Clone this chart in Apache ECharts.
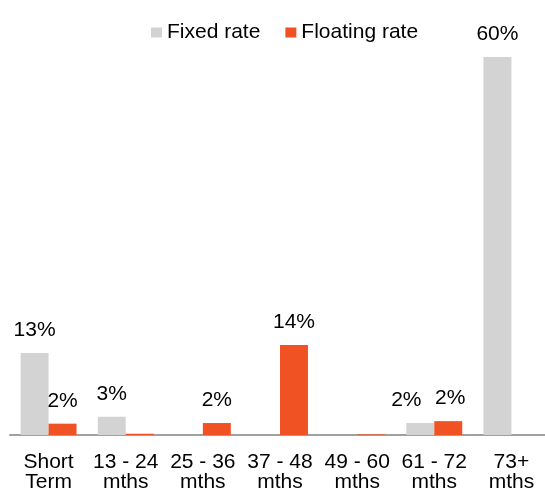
<!DOCTYPE html>
<html>
<head>
<meta charset="utf-8">
<style>
  html, body { margin: 0; padding: 0; background: #fff; }
  #chart { width: 545px; height: 495px; }
</style>
<script src="https://cdn.jsdelivr.net/npm/echarts@6/dist/echarts.min.js"></script>
</head>
<body>
<div id="chart"></div>
<script>
// Maturity buckets
const categories = ['Short\nTerm', '13 - 24\nmths', '25 - 36\nmths', '37 - 48\nmths', '49 - 60\nmths', '61 - 72\nmths', '73+\nmths'];
// Share of debt by rate type, percent (null = no balance)
const fixedRate = [13.0, 2.9, null, null, null, 1.9, 60.0];
const floatingRate = [1.8, 0.2, 1.9, 14.3, 0.1, 2.2, null];

const FONT = '"Liberation Sans", Arial, sans-serif';

const valueLabel = {
  show: true,
  position: 'top',
  distance: 12,
  color: '#000',
  fontFamily: FONT,
  fontSize: 21,
  formatter: p => (p.value == null || p.value < 0.5) ? '' : Math.round(p.value) + '%'
};

// Side-by-side labels in the 61-72 bucket are pushed apart so they don't touch
const labelNudge = { fixed: { 5: [-14, 0] }, floating: { 5: [2, 0] } };
const withNudge = (values, nudges) => values.map((v, i) =>
  nudges[i] ? { value: v, label: { offset: nudges[i] } } : v);

const chart = echarts.init(document.getElementById('chart'), null, { renderer: 'canvas' });
chart.setOption({
  animation: false,
  legend: {
    top: 22,
    left: 151,
    padding: 0,
    itemWidth: 11,
    itemHeight: 10,
    itemGap: 25,
    icon: 'rect',
    textStyle: { fontFamily: FONT, fontSize: 21, color: '#000' },
    data: ['Fixed rate', 'Floating rate']
  },
  grid: { left: 10, width: 540, top: 57, bottom: 60, outerBoundsMode: 'none', containLabel: false },
  xAxis: {
    type: 'category',
    data: categories,
    axisTick: { show: false },
    axisLine: { lineStyle: { color: '#a0a0a0', width: 2 } },
    axisLabel: {
      interval: 0,
      margin: 17,
      color: '#000',
      fontFamily: FONT,
      fontSize: 21,
      lineHeight: 20
    }
  },
  yAxis: {
    type: 'value',
    min: 0,
    max: 60,
    show: false,
    splitLine: { show: false }
  },
  series: [
    {
      name: 'Fixed rate',
      type: 'bar',
      data: withNudge(fixedRate, labelNudge.fixed),
      barGap: '0%',
      barCategoryGap: '27.5%',
      itemStyle: { color: '#d3d3d3' },
      label: valueLabel
    },
    {
      name: 'Floating rate',
      type: 'bar',
      data: withNudge(floatingRate, labelNudge.floating),
      itemStyle: { color: '#f05223' },
      label: valueLabel
    }
  ]
});
</script>
</body>
</html>
